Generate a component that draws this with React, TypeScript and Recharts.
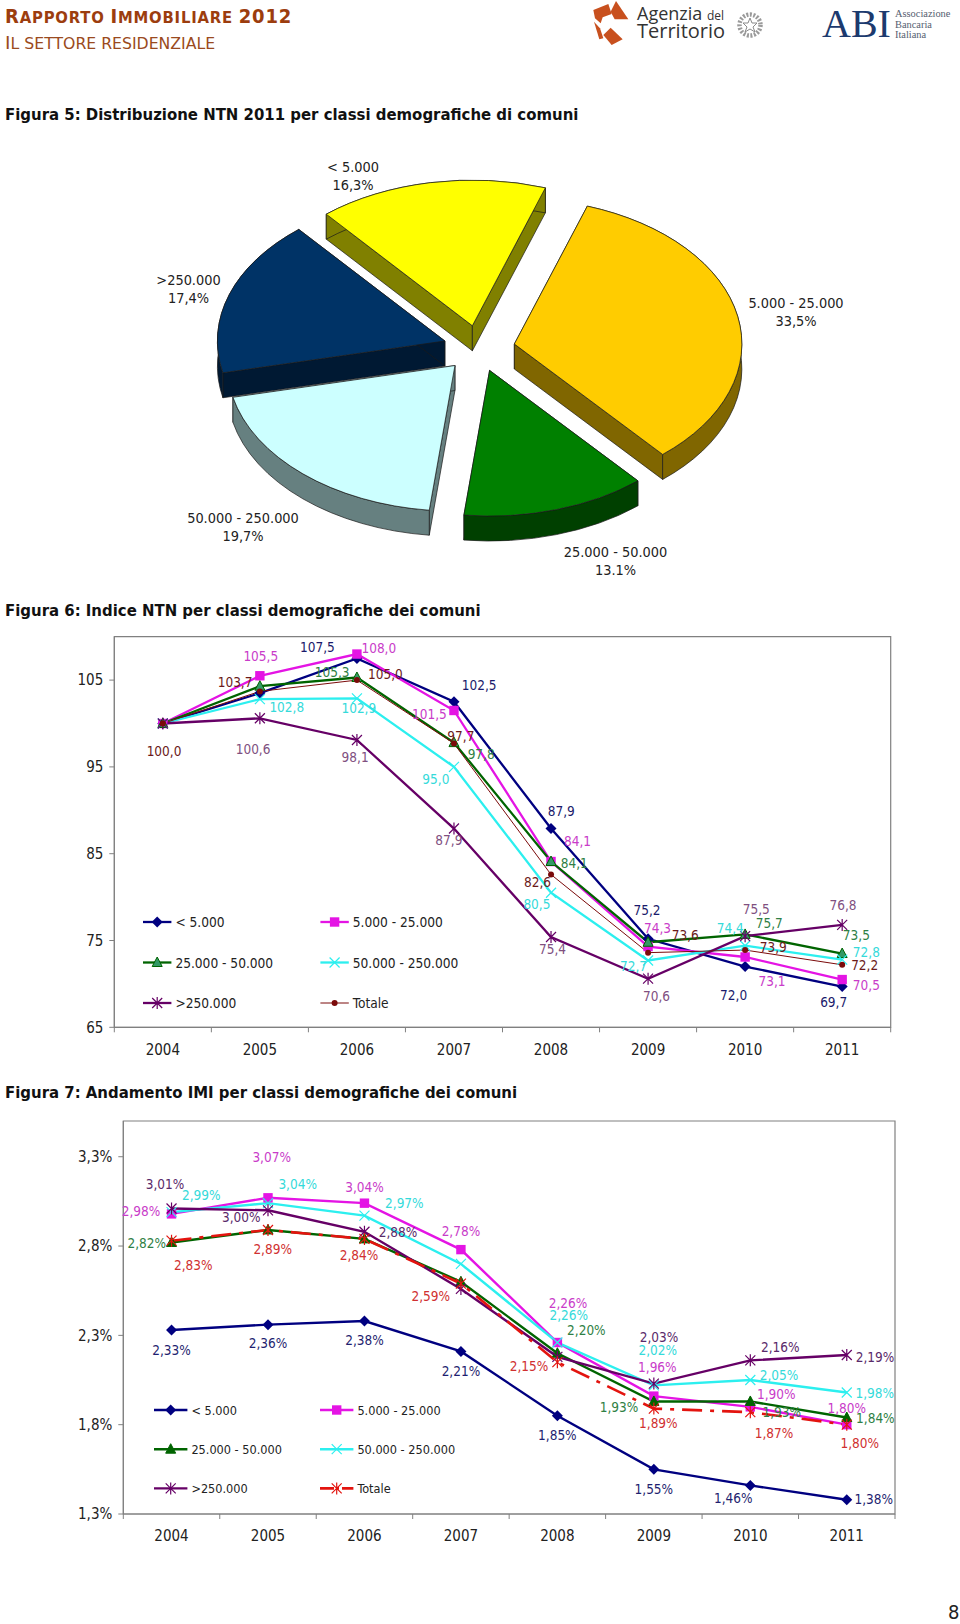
import React from 'react'
import { ComposedChart, Line, XAxis, YAxis, Legend, ReferenceArea, PieChart, Pie } from 'recharts'

const FONT = '"DejaVu Sans Condensed", "DejaVu Sans", sans-serif'

const years = ['2004', '2005', '2006', '2007', '2008', '2009', '2010', '2011']
const seriesNames = ['< 5.000', '5.000 - 25.000', '25.000 - 50.000', '50.000 - 250.000', '>250.000', 'Totale']

// Figura 5
const pieNames = ['>250.000', '< 5.000', '5.000 - 25.000', '25.000 - 50.000', '50.000 - 250.000']
const pieValues = [17.4, 16.3, 33.5, 13.1, 19.7]
const pieTexts = ['17,4%', '16,3%', '33,5%', '13.1%', '19,7%']
const pieColors = ['#003366', '#FFFF00', '#FFCC00', '#008000', '#CCFFFF']
const pieWalls = ['#001933', '#808000', '#806600', '#004000', '#668080']
const pieLabelPos = [[188.5, 280], [353, 167], [796, 303], [615.5, 551.7], [243, 517.7]]

// Figura 6
const ntnSmall = [100.0, 103.5, 107.5, 102.5, 87.9, 75.2, 72.0, 69.7]
const ntnLow = [100.0, 105.5, 108.0, 101.5, 84.1, 74.3, 73.1, 70.5]
const ntnMid = [100.0, 104.3, 105.3, 97.8, 84.1, 74.8, 75.7, 73.5]
const ntnHigh = [100.0, 102.8, 102.9, 95.0, 80.5, 72.7, 74.4, 72.8]
const ntnBig = [100.0, 100.6, 98.1, 87.9, 75.4, 70.6, 75.5, 76.8]
const ntnTotal = [100.0, 103.7, 105.0, 97.7, 82.6, 73.6, 73.9, 72.2]
const ntnTicks = [65, 75, 85, 95, 105]

// Figura 7
const imiSmall = [2.33, 2.36, 2.38, 2.21, 1.85, 1.55, 1.46, 1.38]
const imiLow = [2.98, 3.07, 3.04, 2.78, 2.26, 1.96, 1.90, 1.80]
const imiMid = [2.82, 2.89, 2.84, 2.60, 2.20, 1.93, 1.93, 1.84]
const imiHigh = [2.99, 3.04, 2.97, 2.70, 2.26, 2.02, 2.05, 1.98]
const imiBig = [3.01, 3.00, 2.88, 2.56, 2.18, 2.03, 2.16, 2.19]
const imiTotal = [2.83, 2.89, 2.84, 2.59, 2.15, 1.89, 1.87, 1.80]
const imiTicks = [1.3, 1.8, 2.3, 2.8, 3.3]

// hand placed data labels, one [dx, dy] per point (null = no label in the original)
const ntnLabelShift = [
  [null, null, [-39.5, -11.7], [25.2, -17], [10.2, -17.1], [-1.1, -28.8], [-11.5, 28.5], [-8.5, 15.9]],
  [null, [0.9, -19.4], [21.9, -6.4], [-24.5, 3.7], [26.5, -20.7], [9.5, -18.3], [26.9, 23.8], [24.2, 5.5]],
  [null, null, [-24.8, -5.8], [27.2, 11.3], [23.2, 1.3], null, [24.2, -11.7], [14.2, -18.8]],
  [null, [26.9, 7.5], [1.9, 9.4], [-18.1, 11.7], [-14.1, 11.4], [-14.5, 5.5], [-14.8, -17.4], [24.2, -7.6]],
  [null, [-6.8, 31.2], [-1.8, 16.8], [-5.1, 11.2], [1.5, 12.3], [8.5, 17.1], [11.2, -27.5], [0.9, -19.7]],
  [[1.2, 27.7], [-24.8, -9.6], [28.5, -6], [6.9, -7.2], [-13.5, 7.6], [37.2, -17.6], [28.2, -2.7], [22.5, 0.3]],
]
const imiLabelShift = [
  [[0, 20], [0, 18.6], [0, 18.9], [0, 19.2], [0, 19], [0, 19.2], [-17, 12.7], [27, -0.9]],
  [[-30.5, -2.8], [3.7, -41], [0, -16.4], [0, -18.3], [10.7, -39.3], [3.5, -29.5], [26, -12.9], [0, -17.1]],
  [[-24.8, 0.9], null, null, null, [29, -23.3], [-34.8, 5.4], [31.4, 10.1], [28.6, 0.7]],
  [[29.8, -17], [29.7, -18.8], [39.9, -12.9], null, [11.4, -27.3], [3.9, -35.5], [28.7, -5.1], [28, 0.7]],
  [[-6.5, -24.8], [-26.7, 7.1], [33.6, 0], null, null, [5.2, -46.7], [30, -13.7], [28.3, 1.7]],
  [[21.8, 24.4], [4.7, 19.4], [-5.4, 16.5], [-30.2, 12.8], [-28.3, 3.8], [4.5, 14.6], [23.7, 21], [13, 17.9]],
]

const toRows = (cols: number[][]) =>
  years.map((year, i) => {
    const row: any = { year }
    cols.forEach((c, k) => { row['s' + k] = c[i] })
    return row
  })

const ntnRows = toRows([ntnSmall, ntnLow, ntnMid, ntnHigh, ntnBig, ntnTotal])
const imiRows = toRows([imiSmall, imiLow, imiMid, imiHigh, imiBig, imiTotal])

const markerKinds = ['diamond', 'square', 'triangle', 'cross', 'star', 'dot']

function Marker({ kind, x, y, color, fill }: any) {
  if (kind === 'diamond') {
    return <path d={`M${x} ${y - 5.5}L${x + 5.5} ${y}L${x} ${y + 5.5}L${x - 5.5} ${y}Z`} fill={color} />
  }
  if (kind === 'square') {
    return <rect x={x - 4.7} y={y - 4.7} width={9.4} height={9.4} fill={color} />
  }
  if (kind === 'triangle') {
    return <path d={`M${x} ${y - 5.5}L${x + 5} ${y + 4}L${x - 5} ${y + 4}Z`} fill={fill} stroke={color} strokeWidth={1} />
  }
  if (kind === 'cross') {
    return <path d={`M${x - 5} ${y - 5}L${x + 5} ${y + 5}M${x + 5} ${y - 5}L${x - 5} ${y + 5}`} stroke={color} strokeWidth={1.2} fill="none" />
  }
  if (kind === 'star') {
    return <path d={`M${x - 5} ${y - 5}L${x + 5} ${y + 5}M${x + 5} ${y - 5}L${x - 5} ${y + 5}M${x} ${y - 6}L${x} ${y + 6}`} stroke={color} strokeWidth={1.2} fill="none" />
  }
  return <circle cx={x} cy={y} r={3} fill={color} />
}

const ntnStyle = [
  { color: '#000080', width: 2.3, label: '#1A1A6B', fill: '#000080' },
  { color: '#E414E4', width: 2.3, label: '#C93CC9', fill: '#FF00FF' },
  { color: '#006400', width: 2.3, label: '#2F7F45', fill: '#339966' },
  { color: '#2CEFEF', width: 2.3, label: '#35DADA', fill: '#2CEFEF' },
  { color: '#660066', width: 2.3, label: '#80507F', fill: '#660066' },
  { color: '#7B0A0A', width: 1, label: '#6B1A1A', fill: '#7B0A0A' },
]
const imiStyle = [
  { color: '#000080', width: 2.4, label: '#1F1F70', fill: '#000080' },
  { color: '#E414E4', width: 2.4, label: '#C93CC9', fill: '#FF00FF' },
  { color: '#006400', width: 2.4, label: '#2F7F45', fill: '#006400' },
  { color: '#2CEFEF', width: 2.4, label: '#35DADA', fill: '#2CEFEF' },
  { color: '#660066', width: 2.4, label: '#5A2A6A', fill: '#660066' },
  { color: '#E3140F', width: 2.6, label: '#D03030', fill: '#E3140F', dash: '20 8 4 8', marker: 'star' },
]

function LineChartBlock({ top, height, rows, domain, ticks, margin, styles, shifts, fmt, tickFmt, legend }: any) {
  const band = (960 - margin.left - margin.right - 60) / years.length
  const lastIndex = years.length - 1

  const xTick = (p: any) => (
    <g>
      <line x1={p.x - band / 2} x2={p.x - band / 2} y1={p.y} y2={p.y + 5} stroke="#808080" />
      {p.index === lastIndex && <line x1={p.x + band / 2} x2={p.x + band / 2} y1={p.y} y2={p.y + 5} stroke="#808080" />}
      <text x={p.x} y={p.y + 22.4} textAnchor="middle" dominantBaseline="central" fontSize={15} fill="#222" fontFamily={FONT}>
        {p.payload.value}
      </text>
    </g>
  )

  const legendBox = (props: any) => (
    <svg width={legend.colGap + 200} height={legend.rowGap * 2 + 30} style={{ display: 'block' }}>
      {(props.payload || []).map((entry: any) => {
        const i = seriesNames.indexOf(entry.value)
        const st = styles[i]
        const x0 = (i % 2) * legend.colGap
        const y0 = Math.floor(i / 2) * legend.rowGap + 15
        const kind = st.marker || markerKinds[i]
        return (
          <g key={entry.value}>
            <line x1={x0} x2={x0 + legend.swatch} y1={y0} y2={y0} stroke={st.color} strokeWidth={st.width} strokeDasharray={st.dash ? '14 3 2 3' : undefined} />
            <Marker kind={kind} x={x0 + legend.swatch / 2} y={y0} color={st.color} fill={st.fill} />
            <text x={x0 + legend.swatch + 4} y={y0} dominantBaseline="central" fontSize={legend.fontSize} fill="#222" fontFamily={FONT}>
              {entry.value}
            </text>
          </g>
        )
      })}
    </svg>
  )

  return (
    <div style={{ position: 'absolute', left: 0, top, width: 960, height }}>
      <ComposedChart width={960} height={height} data={rows} margin={margin}>
        <XAxis dataKey="year" scale="band" height={30} interval={0} tick={xTick} tickLine={false} tickSize={0} tickMargin={0} stroke="#808080" />
        <YAxis
          width={60}
          domain={domain}
          ticks={ticks}
          allowDataOverflow
          tickFormatter={tickFmt}
          tickSize={5}
          tickMargin={6}
          stroke="#808080"
          tick={{ fontSize: 15, fill: '#222', fontFamily: FONT }}
        />
        <ReferenceArea y1={domain[0]} y2={domain[1]} fill="none" stroke="#808080" strokeWidth={1.2} ifOverflow="visible" />
        <Legend
          layout="horizontal"
          verticalAlign="middle"
          align="center"
          content={legendBox}
          wrapperStyle={{ position: 'absolute', left: legend.left, top: legend.top, width: legend.colGap + 200, height: legend.rowGap * 2 + 30 }}
        />
        {seriesNames.map((name, k) => {
          const st = styles[k]
          const kind = st.marker || markerKinds[k]
          return (
            <Line
              key={name}
              name={name}
              dataKey={'s' + k}
              type="linear"
              stroke={st.color}
              strokeWidth={st.width}
              strokeDasharray={st.dash}
              isAnimationActive={false}
              dot={(p: any) => (
                <g key={p.index}>
                  <Marker kind={kind} x={p.cx} y={p.cy} color={st.color} fill={st.fill} />
                </g>
              )}
              label={(p: any) => {
                const shift = shifts[k][p.index]
                if (!shift) return <g key={p.index} />
                return (
                  <text key={p.index} x={p.x + shift[0]} y={p.y + shift[1]} textAnchor="middle" dominantBaseline="central" fontSize={13.5} fill={st.label} fontFamily={FONT}>
                    {fmt(p.value)}
                  </text>
                )
              }}
            />
          )
        })}
      </ComposedChart>
    </div>
  )
}

// one exploded slice with its side walls, squashed to look tilted
const TILT = 0.64
const EXPLODE = 36
const DEPTH = 25

function PieSlice(props: any) {
  const { cx, cy, outerRadius: R, startAngle, endAngle, index } = props
  const rad = Math.PI / 180
  const mid = ((startAngle + endAngle) / 2) * rad
  const X = cx + EXPLODE * Math.cos(mid)
  const Y = cy - TILT * EXPLODE * Math.sin(mid)
  const px = (a: number) => X + R * Math.cos(a * rad)
  const py = (a: number) => Y - TILT * R * Math.sin(a * rad)
  const large = Math.abs(startAngle - endAngle) > 180 ? 1 : 0
  const sx = px(startAngle), sy = py(startAngle), ex = px(endAngle), ey = py(endAngle)
  const wall = pieWalls[index]
  const arcWall = `M${sx} ${sy}A${R} ${R * TILT} 0 ${large} 1 ${ex} ${ey}L${ex} ${ey + DEPTH}A${R} ${R * TILT} 0 ${large} 0 ${sx} ${sy + DEPTH}Z`
  return (
    <g stroke="#1A1A1A" strokeWidth={0.7}>
      <path d={`M${X} ${Y}L${sx} ${sy}L${sx} ${sy + DEPTH}L${X} ${Y + DEPTH}Z`} fill={wall} />
      <path d={`M${X} ${Y}L${ex} ${ey}L${ex} ${ey + DEPTH}L${X} ${Y + DEPTH}Z`} fill={wall} />
      <path d={arcWall} fill={wall} />
      <path d={`M${X} ${Y}L${sx} ${sy}A${R} ${R * TILT} 0 ${large} 1 ${ex} ${ey}Z`} fill={props.fill} />
    </g>
  )
}

const pieRows = pieNames.map((name, i) => ({ name, value: pieValues[i], fill: pieColors[i] }))

const pieLabel = (p: any) => {
  const pos = pieLabelPos[p.index]
  return (
    <text key={p.index} textAnchor="middle" fontSize={14.4} fill="#222" fontFamily={FONT}>
      <tspan x={pos[0]} y={pos[1] + 5}>{pieNames[p.index]}</tspan>
      <tspan x={pos[0]} y={pos[1] + 23}>{pieTexts[p.index]}</tspan>
    </text>
  )
}

function Title({ top, children }: any) {
  return (
    <div style={{ position: 'absolute', left: 5, top: top - 11, lineHeight: '22px', fontSize: 16.6, fontWeight: 700, color: '#111', fontFamily: FONT, whiteSpace: 'nowrap' }}>
      {children}
    </div>
  )
}

function Header() {
  const abi = '#1C3A6E'
  const caps = (big: number, small: number, word: string) => (
    <>
      <span style={{ fontSize: big }}>{word[0]}</span>
      <span style={{ fontSize: small }}>{word.slice(1)}</span>
    </>
  )
  return (
    <>
      <div style={{ position: 'absolute', left: 5, top: 3, lineHeight: '27px', fontWeight: 700, color: '#9C3D0E', fontFamily: FONT, whiteSpace: 'nowrap', letterSpacing: 0.8 }}>
        {caps(20, 16.5, 'RAPPORTO')} {caps(20, 16.5, 'IMMOBILIARE')} <span style={{ fontSize: 20 }}>2012</span>
      </div>
      <div style={{ position: 'absolute', left: 5, top: 30, lineHeight: '25px', color: '#9A4A20', fontFamily: '"DejaVu Sans", sans-serif', whiteSpace: 'nowrap' }}>
        {caps(18.5, 15.7, 'IL')} <span style={{ fontSize: 15.7 }}>SETTORE RESIDENZIALE</span>
      </div>
      <svg width={960} height={60} style={{ position: 'absolute', left: 0, top: 0 }}>
        <g transform="translate(580,0) scale(0.3333)" fill="#C8501E">
          <path d="M40 30L85 12L95 42L68 52L62 70L45 55Z" />
          <path d="M108 3L145 58L104 58L92 35Z" />
          <path d="M42 65L60 85L70 115L58 118Z" />
          <path d="M92 83L128 118L95 135L70 105Z" />
        </g>
        <text x={637} y={19.5} fontSize={18} fill="#333" fontFamily="Open Sans">Agenzia</text>
        <text x={707} y={19.5} fontSize={12} fill="#333" fontFamily="Open Sans">del</text>
        <text x={637} y={38} fontSize={20} fill="#333" fontFamily="Open Sans">Territorio</text>
        <circle cx={750} cy={25} r={10.5} fill="none" stroke="#9A9A9A" strokeWidth={4.5} strokeDasharray="2 1.5" />
        <path d="M750 18L752 23L757 23L753 27L755 32L750 29L745 32L747 27L743 23L748 23Z" fill="none" stroke="#8A8A8A" />
        <text x={822} y={37.3} fontSize={40} fill={abi} fontFamily="Liberation Serif">ABI</text>
        <g fontSize={10.4} fill="#555E70" fontFamily="Liberation Serif">
          <text x={895} y={17}>Associazione</text>
          <text x={895} y={27.5}>Bancaria</text>
          <text x={895} y={38}>Italiana</text>
        </g>
      </svg>
    </>
  )
}

export default function App() {
  return (
    <div style={{ position: 'absolute', left: 0, top: 0, width: 960, height: 1624, background: '#fff', overflow: 'hidden' }}>
      <Header />
      <Title top={115}>Figura 5: Distribuzione NTN 2011 per classi demografiche di comuni</Title>
      <div style={{ position: 'absolute', left: 0, top: 0 }}>
        <PieChart width={960} height={600} margin={{ top: 0, right: 0, bottom: 0, left: 0 }}>
          <Pie
            data={pieRows}
            dataKey="value"
            nameKey="name"
            cx={479}
            cy={348.4}
            outerRadius={227.5}
            startAngle={-167.4}
            endAngle={-527.4}
            isAnimationActive={false}
            shape={PieSlice}
            label={pieLabel}
            labelLine={false}
          />
        </PieChart>
      </div>

      <Title top={611}>Figura 6: Indice NTN per classi demografiche dei comuni</Title>
      <LineChartBlock
        top={620}
        height={440}
        rows={ntnRows}
        domain={[65, 110]}
        ticks={ntnTicks}
        margin={{ top: 16.7, left: 54.3, right: 69.3, bottom: 2.7 }}
        styles={ntnStyle}
        shifts={ntnLabelShift}
        fmt={(v: number) => v.toFixed(1).replace('.', ',')}
        tickFmt={(v: number) => String(v)}
        legend={{ left: 143.3, top: 286.7, colGap: 177.4, rowGap: 40.5, swatch: 28.4, fontSize: 13.6 }}
      />

      <Title top={1092.5}>Figura 7: Andamento IMI per classi demografiche dei comuni</Title>
      <LineChartBlock
        top={1100}
        height={450}
        rows={imiRows}
        domain={[1.3, 3.5]}
        ticks={imiTicks}
        margin={{ top: 21, left: 63.3, right: 65, bottom: 6 }}
        styles={imiStyle}
        shifts={imiLabelShift}
        fmt={(v: number) => v.toFixed(2).replace('.', ',') + '%'}
        tickFmt={(v: number) => v.toFixed(1).replace('.', ',') + '%'}
        legend={{ left: 154.3, top: 295.3, colGap: 166, rowGap: 39.2, swatch: 33.4, fontSize: 12.6 }}
      />

      <div style={{ position: 'absolute', left: 948, top: 1600, fontSize: 20, color: '#222', fontFamily: FONT }}>8</div>
    </div>
  )
}
